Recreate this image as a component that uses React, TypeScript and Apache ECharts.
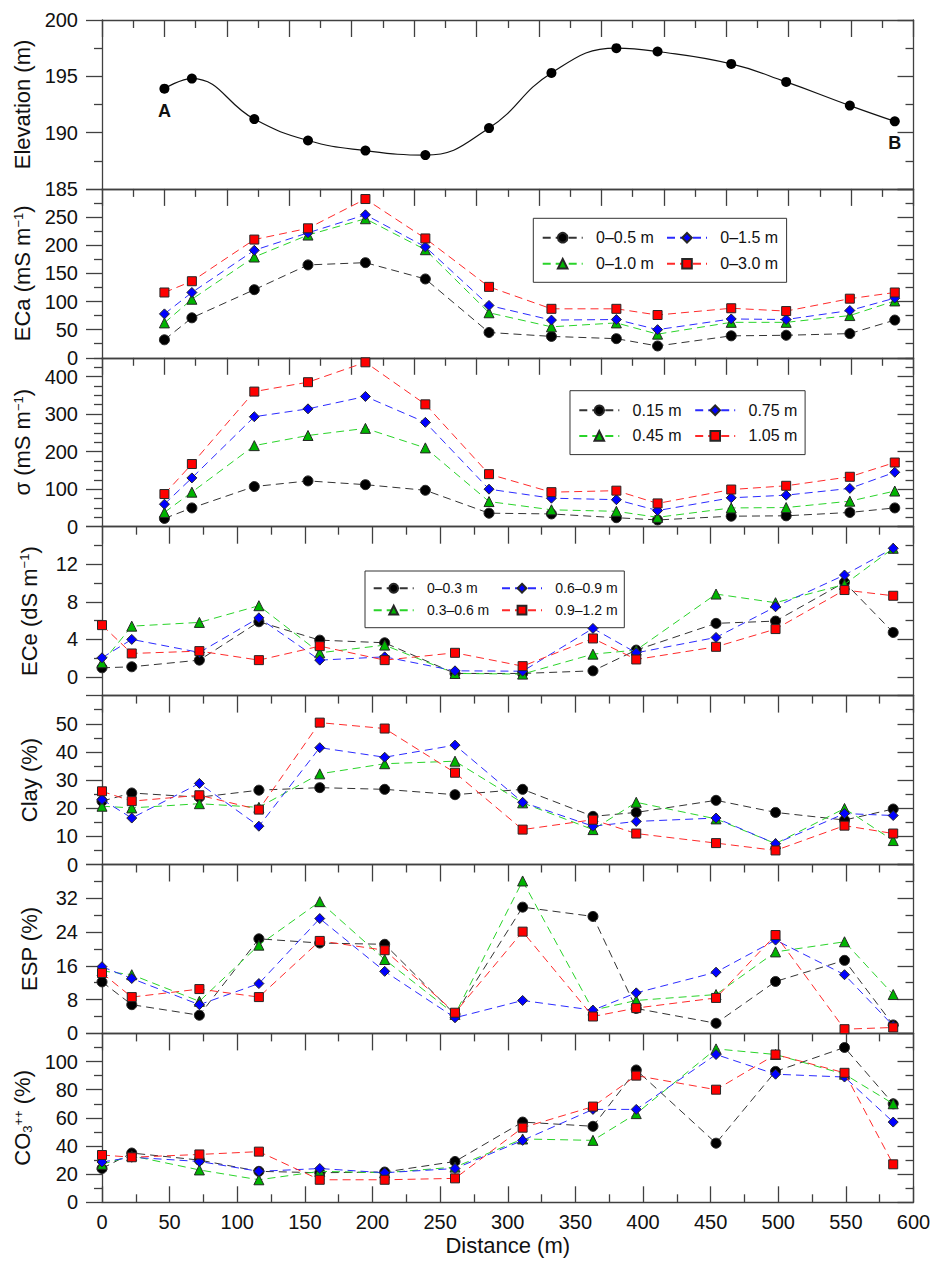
import React, { useEffect, useRef } from 'react';
import * as echarts from 'echarts';

// ---------------- data ----------------
// top three panels (own distance scale, 0–650)
const topDist = [50, 72, 122, 165, 211, 259, 310, 360, 412, 445, 504, 548, 599, 635];
const elevation = [193.9, 194.8, 191.2, 189.3, 188.4, 188.0, 190.4, 195.3, 197.5, 197.2, 196.1, 194.5, 192.4, 191.0];
const elevEndLabels = ['A', 'B'];

const ecaNames = ['0–0.5 m', '0–1.0 m', '0–1.5 m', '0–3.0 m'];
const eca05 = [32, 71, 121, 165, 169, 140, 45, 38, 34, 21, 39, 40, 43, 67];
const eca10 = [62, 104, 179, 218, 247, 192, 80, 55, 62, 42, 63, 63, 75, 101];
const eca15 = [78, 116, 191, 222, 254, 197, 93, 67, 68, 50, 69, 68, 84, 106];
const eca30 = [116, 136, 210, 230, 282, 212, 126, 87, 87, 76, 88, 83, 105, 116];

const sigmaNames = ['0.15 m', '0.45 m', '0.75 m', '1.05 m'];
const sig015 = [22, 50, 107, 122, 112, 97, 36, 34, 24, 18, 28, 29, 38, 50];
const sig045 = [38, 92, 216, 243, 262, 210, 67, 45, 41, 25, 50, 51, 68, 95];
const sig075 = [60, 130, 293, 314, 347, 278, 100, 76, 72, 43, 77, 84, 102, 145];
const sig105 = [87, 167, 360, 385, 438, 326, 140, 92, 96, 62, 99, 109, 133, 171];

// lower four panels (distance 0–600)
const botDist = [0, 22, 72, 116, 161, 209, 261, 311, 363, 395, 454, 498, 549, 585];
const eceNames = ['0–0.3 m', '0.3–0.6 m', '0.6–0.9 m', '0.9–1.2 m'];
const ece03 = [0.96, 1.07, 1.78, 5.87, 3.91, 3.63, 0.36, 0.36, 0.64, 2.85, 5.7, 5.94, 10.07, 4.73];
const ece06 = [1.5, 5.4, 5.8, 7.58, 2.56, 3.38, 0.36, 0.29, 2.42, 2.85, 8.82, 7.9, 9.85, 13.7];
const ece09 = [2.03, 3.99, 2.6, 6.29, 1.78, 2.13, 0.64, 0.6, 5.16, 2.56, 4.2, 7.47, 10.85, 13.7];
const ece12 = [5.51, 2.49, 2.74, 1.78, 3.27, 1.78, 2.56, 1.14, 4.09, 1.85, 3.2, 5.09, 9.25, 8.64];

const clay03 = [22.5, 25.4, 23.9, 26.4, 27.3, 26.7, 24.8, 26.7, 17.1, 18.5, 22.8, 18.5, 15.8, 19.7];
const clay06 = [20.7, 20.1, 21.6, 20.3, 32.2, 35.8, 36.7, 21.9, 12.4, 22.1, 16.2, 7.4, 19.9, 8.5];
const clay09 = [23.1, 16.5, 28.8, 13.6, 41.5, 38.1, 42.4, 22.1, 13.6, 15.3, 16.5, 7.4, 18.1, 17.4];
const clay12 = [26.0, 22.5, 24.6, 19.5, 50.4, 48.3, 32.6, 12.4, 15.9, 11.0, 7.6, 5.0, 13.8, 11.0];

const esp03 = [12.2, 6.8, 4.3, 22.4, 21.4, 21.1, 4.5, 29.9, 27.7, 5.9, 2.4, 12.3, 17.3, 2.0];
const esp06 = [14.8, 13.9, 7.6, 20.9, 31.2, 17.5, 4.5, 36.1, 5.5, 7.8, 9.2, 19.3, 21.7, 9.2];
const esp09 = [15.8, 13.0, 6.8, 11.8, 27.2, 14.7, 3.7, 7.8, 5.5, 9.6, 14.5, 22.1, 13.9, 1.8];
const esp12 = [14.3, 8.6, 10.5, 8.6, 21.9, 19.7, 4.9, 24.1, 4.0, 6.0, 8.4, 23.3, 1.0, 1.4];

const co303 = [24, 35, 30, 22, 21, 21.5, 29, 57, 54, 94, 42, 93, 110, 70];
const co306 = [27, 33, 23, 16, 22, 21, 25, 45, 44, 63, 109, 105, 91, 70];
const co309 = [28.6, 32, 29, 22, 24, 21, 24, 44, 66, 66, 105, 91, 89, 57];
const co312 = [33.6, 32, 34, 36, 16, 16, 17, 53, 68, 90, 80, 105, 92, 27];

const elevTicks = [185, 190, 195, 200];
const ecaTicks = [0, 50, 100, 150, 200, 250];
const sigmaTicks = [0, 100, 200, 300, 400];
const eceTicks = [0, 4, 8, 12];
const clayTicks = [0, 10, 20, 30, 40, 50];
const espTicks = [0, 8, 16, 24, 32];
const co3Ticks = [0, 20, 40, 60, 80, 100];

// ---------------- styling ----------------
const FONT = '"Liberation Sans", Arial, Helvetica, sans-serif';
const INK = '#404040';
const L = 102;
const W = 811.5;
const TOP0 = 20;
const H = 168.9;

const styles = [
  { symbol: 'circle', size: 10, fill: '#000000', line: '#333333' },
  { symbol: 'triangle', size: 10, fill: '#00b400', line: '#2ad42a' },
  { symbol: 'diamond', size: 10, fill: '#0000ff', line: '#2a2aff' },
  { symbol: 'rect', size: 9, fill: '#ff0000', line: '#ff2a2a' },
];

function range(a: number, b: number, step: number) {
  const out: number[] = [];
  for (let v = a; v <= b + 1e-9; v += step) out.push(+v.toFixed(4));
  return out;
}

type Panel = {
  name: string;
  min: number;
  max: number;
  majors: number[];
  minors: number[];
  labels: number[];
  xMax: number;
};

const panels: Panel[] = [
  { name: 'Elevation (m)', min: 185, max: 200, majors: [185, 190, 195, 200], minors: [187.5, 192.5, 197.5], labels: elevTicks, xMax: 650 },
  { name: 'ECa (mS m{sup|−1})', min: 0, max: 300, majors: range(0, 300, 50), minors: range(25, 275, 50), labels: ecaTicks, xMax: 650 },
  { name: 'σ (mS m{sup|−1})', min: 0, max: 450, majors: range(0, 400, 100), minors: range(25, 450, 25).filter((v) => v % 100 !== 0), labels: sigmaTicks, xMax: 650 },
  { name: 'ECe (dS m{sup|−1})', min: -2, max: 16, majors: [0, 4, 8, 12, 16], minors: [2, 6, 10, 14], labels: eceTicks, xMax: 600 },
  { name: 'Clay (%)', min: 0, max: 60, majors: range(0, 60, 10), minors: range(5, 55, 10), labels: clayTicks, xMax: 600 },
  { name: 'ESP (%)', min: 0, max: 40, majors: range(0, 40, 8), minors: range(4, 36, 8), labels: espTicks, xMax: 600 },
  { name: 'CO{sub|3}{sup|++} (%)', min: 0, max: 120, majors: range(0, 120, 20), minors: range(10, 110, 20), labels: co3Ticks, xMax: 600 },
];

const richName = {
  sup: { fontSize: 13, fontFamily: FONT, color: '#111', verticalAlign: 'top', padding: [0, 0, 8, 0] },
  sub: { fontSize: 13, fontFamily: FONT, color: '#111', verticalAlign: 'bottom', padding: [8, 0, 0, 0] },
};

function buildOption() {
  const grid: any[] = [];
  const xAxis: any[] = [];
  const yAxis: any[] = [];
  const series: any[] = [];
  const axisRefs: { x: number; y: number }[] = [];
  const lineSt = { color: INK, width: 1.3 };

  panels.forEach((p, i) => {
    const top = TOP0 + i * H;
    const last = i === panels.length - 1;
    grid.push({ left: L, top, width: W, height: H, containLabel: false });
    const xb = xAxis.length;
    xAxis.push({
      gridIndex: i, type: 'value', min: 0, max: p.xMax, interval: 50, position: 'bottom',
      axisLine: { show: true, onZero: false, lineStyle: lineSt },
      axisTick: { show: last, inside: true, length: 16, lineStyle: lineSt },
      minorTick: { show: last, splitNumber: 2, length: 8, lineStyle: lineSt },
      axisLabel: { show: last, fontSize: 20, fontFamily: FONT, color: '#111', margin: 10 },
      splitLine: { show: false }, minorSplitLine: { show: false },
      name: last ? 'Distance (m)' : '', nameLocation: 'middle', nameGap: 32,
      nameTextStyle: { fontSize: 22, fontFamily: FONT, color: '#111' },
    });
    xAxis.push({
      gridIndex: i, type: 'value', min: 0, max: p.xMax, interval: 50, position: 'top',
      axisLine: { show: true, onZero: false, lineStyle: lineSt },
      axisTick: { show: true, inside: true, length: 17, lineStyle: lineSt },
      minorTick: { show: true, splitNumber: 2, length: 8, lineStyle: lineSt },
      axisLabel: { show: false }, splitLine: { show: false }, minorSplitLine: { show: false },
    });
    const yb = yAxis.length;
    const base = { gridIndex: i, type: 'value', min: p.min, max: p.max, splitLine: { show: false } };
    yAxis.push({
      ...base, position: 'left',
      axisLine: { show: true, onZero: false, lineStyle: lineSt },
      axisTick: { show: true, inside: false, length: 16, customValues: p.majors, lineStyle: lineSt },
      axisLabel: { show: true, customValues: p.labels, margin: 24, fontSize: 20, fontFamily: FONT, color: '#111' },
      name: p.name, nameLocation: 'middle', nameGap: 62,
      nameTextStyle: { fontSize: 22, fontFamily: FONT, color: '#111', rich: richName },
    });
    yAxis.push({
      ...base, position: 'left',
      axisLine: { show: false, onZero: false },
      axisTick: { show: true, inside: false, length: 8, customValues: p.minors, lineStyle: lineSt },
      axisLabel: { show: false },
    });
    yAxis.push({
      ...base, position: 'right',
      axisLine: { show: true, onZero: false, lineStyle: lineSt },
      axisTick: { show: true, inside: true, length: 16, customValues: p.majors, lineStyle: lineSt },
      axisLabel: { show: false },
    });
    yAxis.push({
      ...base, position: 'right',
      axisLine: { show: false, onZero: false },
      axisTick: { show: true, inside: true, length: 8, customValues: p.minors, lineStyle: lineSt },
      axisLabel: { show: false },
    });
    axisRefs.push({ x: xb, y: yb });
  });

  const dashed = (name: string, panel: number, xs: number[], ys: number[], k: number) => {
    const s = styles[k];
    return {
      type: 'line', name, xAxisIndex: axisRefs[panel].x, yAxisIndex: axisRefs[panel].y,
      data: xs.map((x, j) => [x, ys[j]]),
      symbol: s.symbol, symbolSize: s.size, showSymbol: true, clip: false,
      itemStyle: { color: s.fill, borderColor: '#262626', borderWidth: 1 },
      lineStyle: { color: s.line, width: 1, type: [8, 5] },
      emphasis: { disabled: true }, z: 3 + k,
    };
  };

  // elevation
  series.push({
    type: 'line', name: 'Elevation', xAxisIndex: axisRefs[0].x, yAxisIndex: axisRefs[0].y,
    smooth: 0.45, clip: false, symbol: 'circle', symbolSize: 10,
    itemStyle: { color: '#000' }, lineStyle: { color: '#111', width: 1.2 },
    data: topDist.map((x, j) => {
      const item: any = { value: [x, elevation[j]] };
      if (j === 0 || j === topDist.length - 1) {
        item.label = {
          show: true, formatter: j === 0 ? elevEndLabels[0] : elevEndLabels[1], position: 'bottom', distance: 8,
          fontSize: 18, fontWeight: 'bold', fontFamily: FONT, color: '#111',
        };
      }
      return item;
    }),
    emphasis: { disabled: true },
  });

  [eca05, eca10, eca15, eca30].forEach((arr, k) => series.push(dashed(ecaNames[k], 1, topDist, arr, k)));
  [sig015, sig045, sig075, sig105].forEach((arr, k) => series.push(dashed(sigmaNames[k], 2, topDist, arr, k)));
  [ece03, ece06, ece09, ece12].forEach((arr, k) => series.push(dashed(eceNames[k], 3, botDist, arr, k)));
  [clay03, clay06, clay09, clay12].forEach((arr, k) => series.push(dashed('Clay ' + eceNames[k], 4, botDist, arr, k)));
  [esp03, esp06, esp09, esp12].forEach((arr, k) => series.push(dashed('ESP ' + eceNames[k], 5, botDist, arr, k)));
  [co303, co306, co309, co312].forEach((arr, k) => series.push(dashed('CO3 ' + eceNames[k], 6, botDist, arr, k)));

  const legendBase = {
    orient: 'horizontal', itemWidth: 40, selectedMode: false,
    borderColor: '#333', borderWidth: 1, backgroundColor: '#fff',
  };
  const legend = [
    {
      ...legendBase, left: 533.3, top: 218.3, width: 240, padding: [11.4, 6.3, 10.6, 8.4], itemGap: 10, itemHeight: 12,
      textStyle: { fontSize: 16, fontFamily: FONT, color: '#111', width: 60, lineHeight: 12, padding: [0, 0, 0, 8.3] },
      data: [ecaNames[0], ecaNames[2], ecaNames[1], ecaNames[3]],
    },
    {
      ...legendBase, left: 570, top: 390.7, width: 300, padding: [11.6, 4.6, 10.7, 8.3], itemGap: 9.6, itemHeight: 12,
      textStyle: { fontSize: 16, fontFamily: FONT, color: '#111', width: 52, lineHeight: 12, padding: [0, 0, 0, 8.3] },
      data: [sigmaNames[0], sigmaNames[2], sigmaNames[1], sigmaNames[3]],
    },
    {
      ...legendBase, left: 365, top: 571, width: 330, padding: [10.2, 3, 10.5, 7.7], itemGap: 8, itemHeight: 11,
      textStyle: { fontSize: 14, fontFamily: FONT, color: '#111', width: 66, lineHeight: 11, padding: [0, 0, 0, 8.3] },
      data: [eceNames[0], eceNames[2], eceNames[1], eceNames[3]],
    },
  ];

  return {
    animation: false,
    backgroundColor: '#fff',
    textStyle: { fontFamily: FONT },
    grid, xAxis, yAxis, series, legend,
  };
}

export default function App() {
  const ref = useRef<HTMLDivElement>(null);
  useEffect(() => {
    if (!ref.current) return;
    const chart = echarts.init(ref.current, undefined, { renderer: 'svg' });
    chart.setOption(buildOption() as any);
    return () => chart.dispose();
  }, []);
  return (
    <div
      ref={ref}
      style={{ position: 'absolute', left: 0, top: 0, width: 938, height: 1275, background: '#fff' }}
    />
  );
}
